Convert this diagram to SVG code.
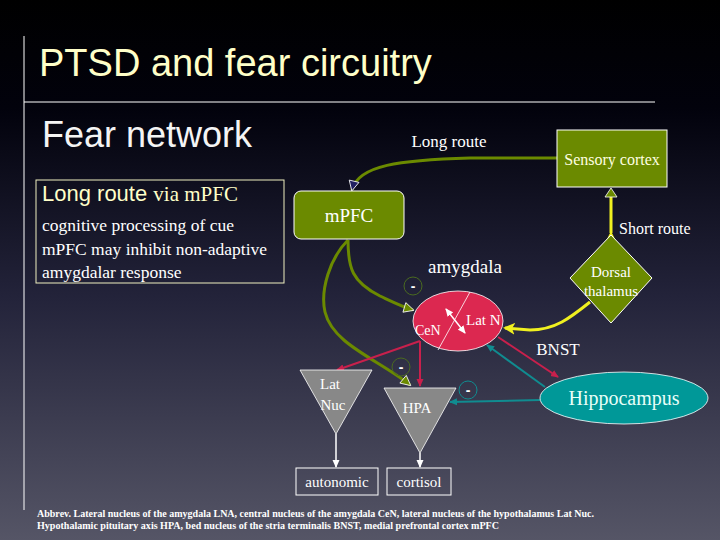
<svg xmlns="http://www.w3.org/2000/svg" width="720" height="540" viewBox="0 0 720 540">
<defs>
<linearGradient id="bg" x1="0" y1="0" x2="0" y2="1">
<stop offset="0" stop-color="#000000"/>
<stop offset="0.2" stop-color="#02020c"/>
<stop offset="0.55" stop-color="#23233a"/>
<stop offset="1" stop-color="#555566"/>
</linearGradient>
<marker id="aRed" markerWidth="8" markerHeight="8" refX="7" refY="4" orient="auto" markerUnits="userSpaceOnUse"><path d="M0,0.5 L8,4 L0,7.5 z" fill="#c8204c"/></marker>
<marker id="aTeal" markerWidth="8" markerHeight="8" refX="7" refY="4" orient="auto" markerUnits="userSpaceOnUse"><path d="M0,0.5 L8,4 L0,7.5 z" fill="#108c90"/></marker>
<marker id="aWhite" markerWidth="8" markerHeight="8" refX="7" refY="4" orient="auto" markerUnits="userSpaceOnUse"><path d="M0,0.5 L8,4 L0,7.5 z" fill="#ffffff"/></marker>
<marker id="aYellow" markerWidth="12" markerHeight="12" refX="10" refY="6" orient="auto" markerUnits="userSpaceOnUse"><path d="M0,0 L12,6 L0,12 L3,6 z" fill="#f0f020"/></marker>
<marker id="aGreen" markerWidth="12" markerHeight="12" refX="10" refY="6" orient="auto" markerUnits="userSpaceOnUse"><path d="M1,1 L11,6 L1,11 z" fill="#6b8a00" stroke="#ffffff" stroke-width="0.8"/></marker>
<marker id="aNavy" markerWidth="12" markerHeight="12" refX="10" refY="6" orient="auto" markerUnits="userSpaceOnUse"><path d="M1,1 L11,6 L1,11 z" fill="#202060" stroke="#ffffff" stroke-width="0.8"/></marker>
<marker id="aDbl" markerWidth="8" markerHeight="8" refX="7" refY="4" orient="auto-start-reverse" markerUnits="userSpaceOnUse"><path d="M0,0.5 L8,4 L0,7.5 z" fill="#ffffff"/></marker>
</defs>
<style>
text{font-family:"Liberation Serif","Times New Roman",serif;fill:#ffffff;}
text.sans,tspan.sans{font-family:"Liberation Sans",Arial,sans-serif;}
.minus circle{fill:none;stroke-width:1;}
.minus text{font-family:"Liberation Sans",Arial,sans-serif;font-size:14px;font-weight:bold;text-anchor:middle;}
</style>
<rect x="0" y="0" width="720" height="540" fill="url(#bg)"/>
<line x1="24" y1="36" x2="24" y2="510" stroke="#ffffff" stroke-width="1"/>
<line x1="24" y1="102" x2="655" y2="102" stroke="#ffffff" stroke-width="1"/>
<text x="39" y="76" class="sans" font-size="38" style="fill:#ffffc8">PTSD and fear circuitry</text>
<text x="42" y="147" class="sans" font-size="36" style="fill:#f4f4f4">Fear network</text>

<g id="infobox">
<rect x="36" y="180" width="248" height="103" fill="none" stroke="#f0f0c0" stroke-width="1"/>
<text x="42" y="201" font-size="22" style="fill:#ffffc8"><tspan class="sans">Long route </tspan><tspan font-size="21">via mPFC</tspan></text>
<text x="42" y="231" font-size="17.5">cognitive processing of cue</text>
<text x="42" y="255" font-size="17.5">mPFC may inhibit non-adaptive</text>
<text x="42" y="278" font-size="17.5">amygdalar response</text>
</g>

<g id="connectors" fill="none">
<path d="M557,158 L470,158 C400,160 358,165 352,190" stroke="#6b8a00" stroke-width="3" marker-end="url(#aNavy)"/>
<line x1="611" y1="233" x2="611" y2="193" stroke="#f0f020" stroke-width="3" marker-start="url(#aYellow)"/>
<path d="M611,198 L605,189 L617,189 z" fill="#6b8a00" stroke="#ffffff" stroke-width="0.8" transform="rotate(180 611 193)"/>
<path d="M348,240 C348,268 352,282 380,296 C395,303 403,307 413,310" stroke="#6b8a00" stroke-width="3" marker-end="url(#aGreen)"/>
<path d="M348,240 C330,258 320,290 325,312 C333,345 380,360 410,385" stroke="#6b8a00" stroke-width="3" marker-end="url(#aGreen)"/>
<path d="M590,302 C570,318 555,330 530,330 L505,328" stroke="#f0f020" stroke-width="3" marker-end="url(#aYellow)"/>
<line x1="420" y1="341" x2="337" y2="370" stroke="#c8204c" stroke-width="2" marker-end="url(#aRed)"/>
<line x1="420" y1="341" x2="420" y2="386" stroke="#c8204c" stroke-width="2" marker-end="url(#aRed)"/>
<line x1="498" y1="337" x2="558" y2="377" stroke="#c8204c" stroke-width="2" marker-end="url(#aRed)"/>
<line x1="545" y1="387" x2="487" y2="345" stroke="#108c90" stroke-width="2" marker-end="url(#aTeal)"/>
<line x1="540" y1="400" x2="450" y2="402" stroke="#108c90" stroke-width="2" marker-end="url(#aTeal)"/>
<line x1="336" y1="434" x2="336" y2="467" stroke="#ffffff" stroke-width="1.5" marker-end="url(#aWhite)"/>
<line x1="420" y1="453" x2="420" y2="467" stroke="#ffffff" stroke-width="1.5" marker-end="url(#aWhite)"/>
</g>

<text x="449" y="147" font-size="17" text-anchor="middle">Long route</text>
<text x="619" y="234" font-size="16">Short route</text>
<text x="465" y="273" font-size="19" text-anchor="middle">amygdala</text>
<text x="558" y="355" font-size="17" text-anchor="middle">BNST</text>

<g class="minus">
<circle cx="413" cy="286" r="9" stroke="#4a6a20"/><text x="413" y="291">-</text>
<circle cx="401" cy="367" r="9" stroke="#4a6a20"/><text x="401" y="372">-</text>
<circle cx="468" cy="390" r="9" stroke="#108c90"/><text x="468" y="395">-</text>
</g>

<g id="sensory-cortex">
<rect x="557" y="130" width="110" height="57" fill="#6b8a00" stroke="#ffffff" stroke-width="1"/>
<text x="612" y="165" font-size="16" style="fill:#ffffe0" text-anchor="middle">Sensory cortex</text>
</g>
<g id="mpfc">
<rect x="294" y="191" width="110" height="48" rx="7" fill="#6b8a00" stroke="#ffffff" stroke-width="1"/>
<text x="349" y="222" font-size="19" text-anchor="middle">mPFC</text>
</g>
<g id="dorsal-thalamus">
<polygon points="611,235 652,278 611,323 570,278" fill="#6b8a00" stroke="#ffffff" stroke-width="1"/>
<text x="611" y="277" font-size="15" text-anchor="middle">Dorsal</text>
<text x="611" y="296" font-size="15" text-anchor="middle">thalamus</text>
</g>
<g id="amygdala">
<ellipse cx="458" cy="321" rx="45" ry="30" fill="#dc2850" stroke="#ffffff" stroke-width="0.8"/>
<line x1="470" y1="292" x2="438" y2="350" stroke="#ffffff" stroke-width="0.8"/>
<line x1="446" y1="309" x2="465" y2="333" stroke="#ffffff" stroke-width="1.5" marker-start="url(#aDbl)" marker-end="url(#aDbl)"/>
<text x="415" y="335" font-size="14">CeN</text>
<text x="466" y="325" font-size="15">Lat N</text>
</g>
<g id="hippocampus">
<ellipse cx="624" cy="398" rx="84" ry="26" fill="#009898" stroke="#ffffff" stroke-width="0.8"/>
<text x="624" y="405" font-size="20" style="fill:#e8fff8" text-anchor="middle">Hippocampus</text>
</g>
<g id="lat-nuc">
<polygon points="300,370 372,370 336,434" fill="#888888" stroke="#ffffff" stroke-width="0.8"/>
<text x="330" y="389" font-size="15" text-anchor="middle">Lat</text>
<text x="333" y="410" font-size="15" text-anchor="middle">Nuc</text>
</g>
<g id="hpa">
<polygon points="384,388 456,388 420,453" fill="#888888" stroke="#ffffff" stroke-width="0.8"/>
<text x="417" y="413" font-size="15" text-anchor="middle">HPA</text>
</g>
<g id="autonomic">
<rect x="296" y="468" width="82" height="27" fill="none" stroke="#ffffff" stroke-width="1"/>
<text x="337" y="487" font-size="15" text-anchor="middle">autonomic</text>
</g>
<g id="cortisol">
<rect x="387" y="468" width="64" height="27" fill="none" stroke="#ffffff" stroke-width="1"/>
<text x="419" y="487" font-size="15" text-anchor="middle">cortisol</text>
</g>

<text x="37" y="517" font-size="9.5" font-weight="bold" textLength="557" lengthAdjust="spacingAndGlyphs">Abbrev. Lateral nucleus of the amygdala LNA, central nucleus of the amygdala CeN, lateral nucleus of the hypothalamus Lat Nuc.</text>
<text x="37" y="529" font-size="9.5" font-weight="bold" textLength="462" lengthAdjust="spacingAndGlyphs">Hypothalamic pituitary axis HPA, bed nucleus of the stria terminalis BNST, medial prefrontal cortex mPFC</text>
</svg>
